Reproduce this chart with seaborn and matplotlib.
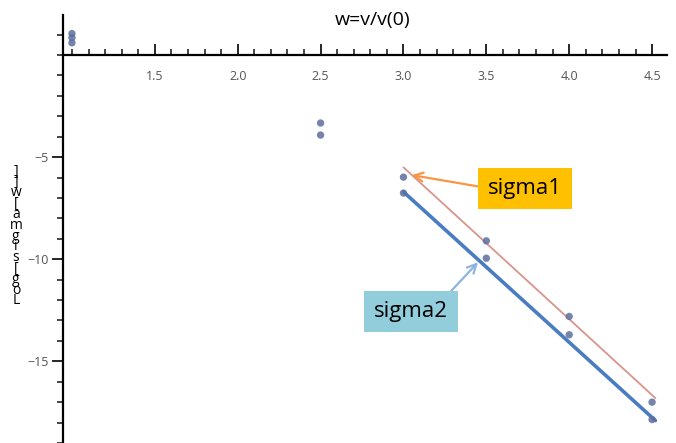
import numpy as np
import pandas as pd
import matplotlib
matplotlib.use("Agg")
import matplotlib.pyplot as plt
import seaborn as sns
from matplotlib.ticker import MultipleLocator

# values
w_vals = [1.0, 1.0, 1.0, 2.5, 2.5, 3.0, 3.0, 3.5, 3.5, 4.0, 4.0, 4.5, 4.5]
log_sigma = [1.05, 0.85, 0.6, -3.33, -3.92, -5.98, -6.76, -9.1, -9.95, -12.8, -13.7, -17.0, -17.85]

fit1_w = [3.0, 4.52]
fit1_y = [-5.5, -16.8]
fit2_w = [3.0, 4.52]
fit2_y = [-6.7, -17.9]

y_label = "Log[sigma[w]]"
x_label = "w=v/v(0)"

sns.set_style("white")
plt.rcParams['font.family'] = ['Open Sans', 'DejaVu Sans']
plt.rcParams['text.color'] = 'black'

df = pd.DataFrame({"w": w_vals, "logsigma": log_sigma})
fit1 = pd.DataFrame({"w": fit1_w, "y": fit1_y})
fit2 = pd.DataFrame({"w": fit2_w, "y": fit2_y})

fig = plt.figure(figsize=(6.76, 4.43), dpi=100)
ax = fig.add_axes([63 / 676, 0, 604 / 676, 428 / 443])

sns.lineplot(data=fit1, x="w", y="y", color="#d9948c", linewidth=1.3, ax=ax)
sns.lineplot(data=fit2, x="w", y="y", color="#4a7cc2", linewidth=2.6, ax=ax)
sns.scatterplot(data=df, x="w", y="logsigma", color="#5d6f9e", s=28,
                edgecolor="none", alpha=0.85, ax=ax, zorder=5)

ax.set_xlim(0.946, 4.59)
ax.set_ylim(-19.0, 1.96)

# Mathematica style axes crossing at y=0
for s in ["top", "right"]:
    ax.spines[s].set_visible(False)
ax.spines["bottom"].set_position(("data", 0))
for s in ["left", "bottom"]:
    ax.spines[s].set_color("black")
    ax.spines[s].set_linewidth(1.6)

ax.xaxis.set_major_locator(MultipleLocator(0.5))
ax.xaxis.set_minor_locator(MultipleLocator(0.1))
ax.yaxis.set_major_locator(MultipleLocator(5))
ax.yaxis.set_minor_locator(MultipleLocator(1))
ax.set_xticks([1.5, 2.0, 2.5, 3.0, 3.5, 4.0, 4.5])
ax.set_xticklabels(["1.5", "2.0", "2.5", "3.0", "3.5", "4.0", "4.5"])
ax.set_yticks([-15, -10, -5])
ax.set_yticklabels(["\u221215", "\u221210", "\u22125"])

ax.tick_params(axis="x", which="major", direction="in", length=8, width=1.4,
               labelsize=9, labelcolor="#555555", pad=11, bottom=True)
ax.tick_params(axis="x", which="minor", direction="in", length=4, width=1.2, bottom=True)
ax.tick_params(axis="y", which="major", direction="in", length=8, width=1.4,
               labelsize=9, labelcolor="#555555", pad=10, left=True)
ax.tick_params(axis="y", which="minor", direction="in", length=4, width=1.2, left=True)
# ticks point up from the x axis and right from the y axis
for t in ax.xaxis.get_major_ticks() + ax.xaxis.get_minor_ticks():
    t.tick1line.set_marker(2)
for t in ax.yaxis.get_major_ticks() + ax.yaxis.get_minor_ticks():
    t.tick1line.set_marker(0)

ax.set_xlabel("")
ax.set_ylabel("")
fig.text(373 / 676, 1 - 20 / 443, x_label, ha="center", va="center", fontsize=14)
fig.text(16 / 676, 1 - 236 / 443, "\n".join(reversed(y_label)), ha="center", va="center",
         fontsize=10, linespacing=0.62)

ax.annotate("sigma1", xy=(3.05, -5.88), xytext=(3.735, -6.52), fontsize=16,
            ha="center", va="center",
            bbox=dict(boxstyle="square,pad=0.45", fc="#ffc000", ec="none"),
            arrowprops=dict(arrowstyle="->", color="#f79646", lw=1.6, relpos=(0, 0.5),
                            shrinkA=0, shrinkB=0))
ax.annotate("sigma2", xy=(3.45, -10.15), xytext=(3.045, -12.55), fontsize=16,
            ha="center", va="center",
            bbox=dict(boxstyle="square,pad=0.45", fc="#92cddc", ec="none"),
            arrowprops=dict(arrowstyle="->", color="#8db3e2", lw=1.6, relpos=(0.92, 1.0),
                            shrinkA=0, shrinkB=0))

fig.savefig("out.png", dpi=100)
